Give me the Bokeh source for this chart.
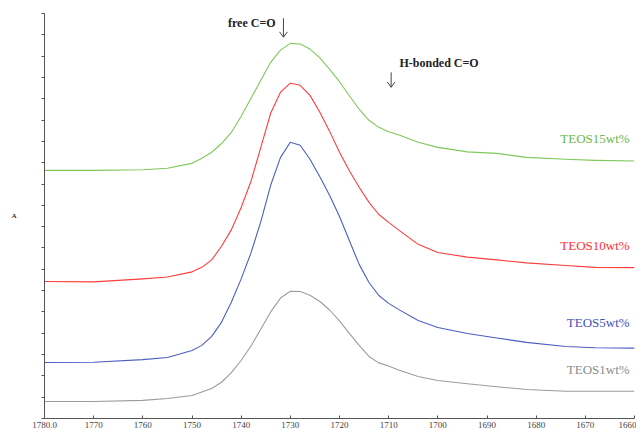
from bokeh.plotting import figure
from bokeh.models import (Range1d, FixedTicker, Arrow, NormalHead, ColumnDataSource, Label,
                          CustomLabelingPolicy)
from bokeh.core.properties import value
from bokeh.embed import file_html
from bokeh.resources import INLINE

# wavenumber grid (cm-1)
wavenumber = [1780, 1770, 1760, 1755, 1750, 1748, 1746, 1744, 1742, 1740, 1738, 1736,
              1734, 1732, 1730, 1728, 1726, 1724, 1722, 1720, 1718, 1716, 1714, 1712,
              1710, 1708, 1704, 1700, 1694, 1688, 1682, 1674, 1668, 1660]

teos15 = [1.164, 1.164, 1.167, 1.174, 1.197, 1.221, 1.249, 1.290, 1.342, 1.418, 1.502, 1.587,
          1.671, 1.728, 1.760, 1.757, 1.733, 1.692, 1.638, 1.580, 1.514, 1.451, 1.399, 1.366,
          1.345, 1.331, 1.296, 1.272, 1.251, 1.244, 1.225, 1.216, 1.211, 1.208]
teos10 = [0.643, 0.641, 0.655, 0.664, 0.688, 0.709, 0.744, 0.808, 0.885, 0.990, 1.113, 1.272,
          1.432, 1.531, 1.573, 1.563, 1.516, 1.437, 1.347, 1.249, 1.162, 1.085, 1.014, 0.957,
          0.920, 0.885, 0.817, 0.779, 0.757, 0.744, 0.730, 0.718, 0.709, 0.708]
teos5 = [0.263, 0.264, 0.276, 0.286, 0.319, 0.343, 0.385, 0.451, 0.545, 0.655, 0.777, 0.924,
         1.094, 1.225, 1.296, 1.282, 1.216, 1.134, 1.046, 0.948, 0.835, 0.723, 0.638, 0.577,
         0.540, 0.512, 0.460, 0.427, 0.399, 0.378, 0.357, 0.338, 0.332, 0.330]
teos1 = [0.080, 0.080, 0.085, 0.094, 0.108, 0.124, 0.141, 0.170, 0.215, 0.272, 0.340, 0.420,
         0.500, 0.565, 0.597, 0.596, 0.578, 0.549, 0.509, 0.458, 0.399, 0.343, 0.291, 0.261,
         0.246, 0.228, 0.197, 0.178, 0.163, 0.149, 0.136, 0.128, 0.128, 0.128]

series_names = ["TEOS15wt%", "TEOS10wt%", "TEOS5wt%", "TEOS1wt%"]
series_values = [teos15, teos10, teos5, teos1]
series_colors = ["#7fc85c", "#ff3d3d", "#4d5ec2", "#9c9c9c"]
label_colors = ["#6cb84a", "#ff3030", "#3f50b8", "#8c8c8c"]
label_y = [1.315, 0.812, 0.452, 0.230]

x_ticks = [1780, 1770, 1760, 1750, 1740, 1730, 1720, 1710, 1700, 1690, 1680, 1670, 1660]
x_tick_labels = ["1780.0", "1770", "1760", "1750", "1740", "1730", "1720", "1710",
                 "1700", "1690", "1680", "1670", "1660"]
y_ticks = [i / 10 for i in range(0, 20)]

serif = "Liberation Serif"

p = figure(width=636, height=439, output_backend="svg", toolbar_location=None,
           x_range=Range1d(1780, 1660), y_range=Range1d(0, 1.9),
           min_border_left=44, min_border_right=2, min_border_top=13, min_border_bottom=21)
p.outline_line_color = None
p.grid.visible = False
p.background_fill_color = "white"

for vals, col in zip(series_values, series_colors):
    p.line(wavenumber, vals, line_color=col, line_width=1.1, line_join="round")

src = ColumnDataSource(dict(x=[1661] * 4, y=label_y, t=series_names, c=label_colors))
p.text(x="x", y="y", text="t", text_color="c", source=src, text_align="right",
       text_baseline="middle", text_font=value(serif), text_font_size="13px")

# annotations
p.text(x=[1733.0], y=[1.854], text=["free C=O"], text_align="right", text_baseline="middle",
       text_font=value(serif), text_font_size="12px", text_font_style="bold", text_color="#222222")
p.text(x=[1707.8], y=[1.667], text=["H-bonded C=O"], text_align="left", text_baseline="middle",
       text_font=value(serif), text_font_size="12px", text_font_style="bold", text_color="#222222")
for (xa, y0, y1) in [(1731.4, 1.878, 1.789), (1709.5, 1.624, 1.554)]:
    p.add_layout(Arrow(end=NormalHead(size=0, line_color="#444444"), x_start=xa, y_start=y0,
                       x_end=xa, y_end=y1, line_color="#444444", line_width=1))
    p.add_layout(Arrow(end=None, x_start=xa, y_start=y1, x_end=xa - 0.8, y_end=y1 + 0.025,
                       line_color="#444444", line_width=1))
    p.add_layout(Arrow(end=None, x_start=xa, y_start=y1, x_end=xa + 0.8, y_end=y1 + 0.025,
                       line_color="#444444", line_width=1))

p.add_layout(Label(x=1720, y=-0.058, text="cm\u207b\u00b9", text_align="center",
                   text_baseline="top", text_font=serif, text_font_size="7px",
                   text_color="#333333"))

xa_ = p.xaxis[0]
xa_.ticker = FixedTicker(ticks=x_ticks)
xa_.major_label_overrides = {t: l for t, l in zip(x_ticks, x_tick_labels)}
xa_.major_label_text_font = serif
xa_.major_label_text_font_size = "9px"
xa_.major_label_text_color = "#444444"
xa_.major_label_standoff = 3
xa_.major_tick_in = 3
xa_.major_tick_out = 0
xa_.minor_tick_line_color = None
xa_.axis_line_color = "#555555"
xa_.major_tick_line_color = "#555555"

ya = p.yaxis[0]
ya.ticker = FixedTicker(ticks=y_ticks)
ya.major_label_overrides = {t: "" for t in y_ticks}
ya.major_label_policy = CustomLabelingPolicy(
    code="for (const i of indices) { indices.unset(i) } return indices")
ya.major_label_standoff = 0
ya.major_tick_in = 0
ya.major_tick_out = 3
ya.minor_tick_line_color = None
ya.axis_line_color = "#555555"
ya.major_tick_line_color = "#555555"
ya.axis_label = "A"
ya.axis_label_orientation = "horizontal"
ya.axis_label_text_font = serif
ya.axis_label_text_font_size = "7px"
ya.axis_label_text_font_style = "bold"
ya.axis_label_text_color = "#333333"
ya.axis_label_standoff = 25

open("out.html", "w").write(file_html(p, INLINE))
